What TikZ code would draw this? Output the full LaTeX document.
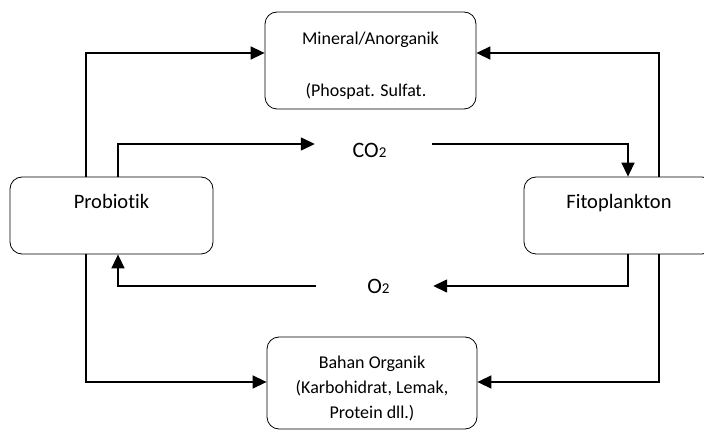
\documentclass[tikz,border=0pt]{standalone}
\usepackage{fontspec}
\setmainfont{Carlito}[Ligatures=CommonOff]
\usetikzlibrary{arrows.meta}
\begin{document}
\begin{tikzpicture}[x=1pt,y=-1pt,
    kotak/.style={draw,rounded corners=12pt,fill=white,line width=.8pt,inner sep=0pt},
    panah/.style={line width=1.5pt,-{Triangle[length=14pt,width=13pt]}},
    teks/.style={inner sep=0pt,align=center}]
  \useasboundingbox (0,0) rectangle (704,430);
  \begin{scope}
    \clip (0,0) rectangle (704,430);
    \node[kotak,minimum width=211pt,minimum height=97pt] (min) at (370.5,60.5) {};
    \node[kotak,minimum width=203pt,minimum height=77pt] (prob) at (111.5,215.5) {};
    \node[kotak,minimum width=190pt,minimum height=77pt] (fito) at (619,215.5) {};
    \node[kotak,minimum width=210pt,minimum height=92pt] (org) at (372,383) {};
  \end{scope}
  \node[teks,anchor=base] at (370.5,45) {\fontsize{18}{18}\selectfont Mineral/Anorganik};
  \node[teks,anchor=base] at (366,97) {\fontsize{18}{18}\selectfont (Phospat. Sulfat.};
  \node[teks,anchor=base] at (111.5,209) {\fontsize{20.5}{20.5}\selectfont Probiotik};
  \node[teks,anchor=base] at (619,209) {\fontsize{20.5}{20.5}\selectfont Fitoplankton};
  \node[teks,anchor=base] at (372,368) {\fontsize{18}{18}\selectfont Bahan Organik};
  \node[teks,anchor=base] at (372,393) {\fontsize{18}{18}\selectfont (Karbohidrat, Lemak,};
  \node[teks,anchor=base] at (372,418) {\fontsize{18}{18}\selectfont Protein dll.)};
  \node[teks,minimum width=117pt] (co2) at (373.5,150) {\fontsize{22}{22}\selectfont CO{\fontsize{15}{15}\selectfont 2}\hspace{8pt}};
  \node[teks,minimum width=117pt] (o2) at (374.5,286) {\fontsize{22}{22}\selectfont \hspace{8pt}O{\fontsize{15}{15}\selectfont 2}};
  \draw[panah] ([xshift=-25.5pt]prob.north) |- ([yshift=7.5pt]min.west);
  \draw[panah] ([xshift=40pt]fito.north) |- ([yshift=7.5pt]min.east);
  \draw[panah] ([xshift=6.5pt]prob.north) |- ([yshift=6pt]co2.west);
  \draw[panah] ([yshift=6pt]co2.east) -| ([xshift=9pt]fito.north);
  \draw[panah] ([xshift=9pt]fito.south) |- (o2.east);
  \draw[panah] (o2.west) -| ([xshift=6.5pt]prob.south);
  \draw[panah] ([xshift=-25.5pt]prob.south) |- ([yshift=1pt]org.west);
  \draw[panah] ([xshift=40pt]fito.south) |- ([yshift=1pt]org.east);
\end{tikzpicture}
\end{document}
